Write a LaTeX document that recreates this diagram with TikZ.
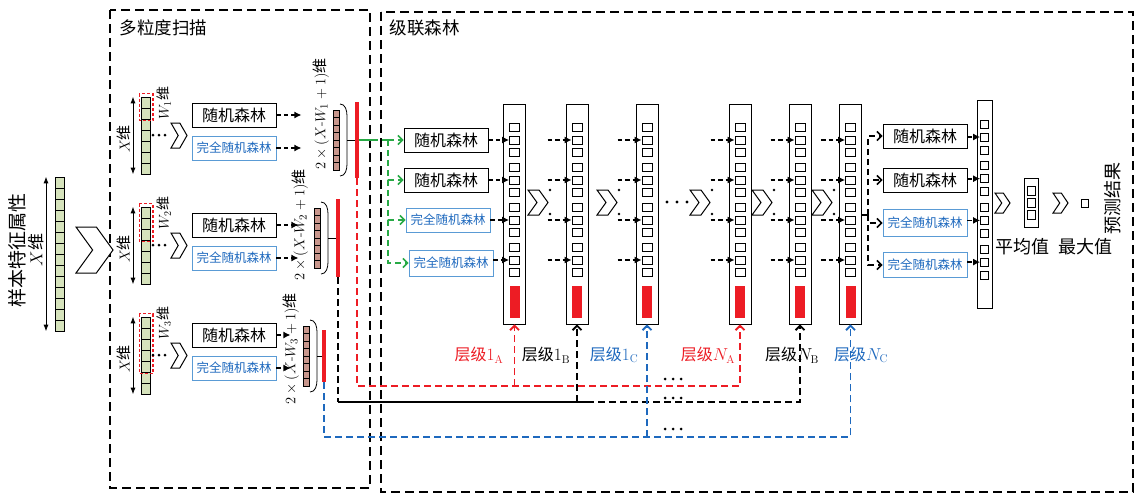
\documentclass[tikz,border=0pt]{standalone}
\usepackage{fontspec}
\usepackage{amsmath}
\usetikzlibrary{arrows.meta,positioning}
\newfontfamily\cjk{Noto Sans CJK SC}
\definecolor{cellgreen}{RGB}{214,227,188}
\definecolor{cellbrown}{RGB}{200,150,140}
\definecolor{lvred}{RGB}{237,28,36}
\definecolor{lvblue}{RGB}{30,105,190}
\definecolor{boxblue}{RGB}{90,155,213}
\definecolor{lvgreen}{RGB}{40,170,70}

\begin{document}
\begin{tikzpicture}[x=1pt,y=-1pt,>=Latex,
  zone/.style={draw,line width=2.2pt,dash pattern=on 9pt off 5pt},
  title/.style={anchor=west,font=\cjk\fontsize{17.5}{17.5}\selectfont},
  lab/.style={font=\cjk\fontsize{16}{16}\selectfont},
  cell/.style={draw,fill=cellgreen,line width=0.6pt,minimum width=9pt,minimum height=11pt,inner sep=0pt},
  bcell/.style={draw,fill=cellbrown,line width=0.3pt,minimum width=6pt,minimum height=7.5pt,inner sep=0pt},
  slot/.style={draw,line width=0.7pt,minimum width=10pt,minimum height=8pt,inner sep=0pt},
  col/.style={draw,line width=0.9pt,minimum width=22pt,minimum height=220pt,inner sep=0pt},
  bar/.style={fill=lvred,inner sep=0pt},
  rf/.style={draw,line width=0.9pt,font=\cjk\fontsize{16}{16}\selectfont,minimum width=84pt,minimum height=24pt,inner sep=0pt},
  crf/.style={draw=boxblue,line width=0.9pt,text=lvblue,font=\cjk\fontsize{12.5}{12.5}\selectfont,minimum width=84pt,minimum height=24pt,inner sep=0pt},
  flow/.style={line width=1.8pt,dash pattern=on 4.5pt off 3pt,-{Latex[length=7pt,width=7pt]}},
  bflow/.style={line width=1.6pt,dash pattern=on 6pt off 4pt,-{Straight Barb[length=4.5pt,width=9pt]}},
  gflow/.style={lvgreen,bflow},
  rail/.style={line width=1.8pt,dash pattern=on 7pt off 4pt},
  chev/.pic={\draw[line width=1pt,fill=white] (0,0) -- (0.55,0) -- (1,0.5) -- (0.55,1) -- (0,1) -- (0.45,0.5) -- cycle;}]
\fill[white] (0,0) rectangle (1143,498);
\useasboundingbox (0,0) rectangle (1143,498);

% two stages
\draw[zone] (110,10) rectangle (370,488);
\draw[zone] (381,12) rectangle (1133,492);
\node[title] (mgs) at (116,28) {多粒度扫描};
\node[title] (cfs) at (386,28) {级联森林};

% sample
\foreach \i in {0,...,13} \node[cell] (s\i) at (60,{182.5+11*\i}) {};
\draw[thick,{Latex}-{Latex}] ([xshift=-14pt]s0.north) -- ([xshift=-14pt]s13.south);
\node[lab,rotate=90,font=\cjk\fontsize{19}{19}\selectfont] (attr) at (17,250) {样本特征属性};
\node[lab,rotate=90,font=\cjk\fontsize{17}{17}\selectfont] (xs) at (36,250) {$X$维};
\pic[xscale=37,yscale=46] (bigchev) at (76,227) {chev};

% scanning windows
\foreach \g/\tp/\w/\bx/\bc/\rx/\rh/\tx/\ty/\al in {1/97/2/336/140/357/76/321/114/25,2/207/3/317/238/338/78/300/225/22,3/317/5/306/356/324/52/291/349/14}{
  \foreach \i in {0,...,6} \node[cell] (g\g-\i) at (146,{\tp+5.5+11*\i}) {};
  \pgfmathtruncatemacro\wl{\w-1}
  \draw[lvred,line width=1.4pt,dash pattern=on 3pt off 2pt] ([xshift=-2pt,yshift=3pt]g\g-0.north west) rectangle ([xshift=2pt,yshift=-1pt]g\g-\wl.south east);
  \draw[thick,{Latex}-{Latex}] ([xshift=-13pt]g\g-0.north) -- ([xshift=-13pt]g\g-6.south);
  \node[lab,rotate=90,font=\cjk\fontsize{15}{15}\selectfont] (xd\g) at (124,{\tp+42}) {$X$维};
  \node[lab,rotate=90,font=\cjk\fontsize{14}{14}\selectfont] (wd\g) at (164,{\tp+6}) {$W_{\g}$维};
  \foreach \dd in {0,1,2} \fill ({153+6*\dd},{\tp+38}) circle (1.5pt);
  \pic[xscale=16,yscale=25] (ch\g) at (171,{\tp+26}) {chev};
  \node[rf] (rf\g) at (234,{\tp+18}) {随机森林};
  \node[crf] (crf\g) at (234,{\tp+51}) {完全随机森林};
  \draw[flow] (rf\g.east) -- ([xshift=\al pt]rf\g.east);
  \draw[flow] (crf\g.east) -- ([xshift=\al pt]crf\g.east);
  \foreach \i in {0,...,7} \node[bcell] (b\g-\i) at (\bx,{\bc-26.25+7.5*\i}) {};
  \node[bar,minimum width=4pt,minimum height=\rh pt] (rb\g) at (\rx,\bc) {};
  \draw[line width=0.8pt] ({\bx+4},{\bc-36}) to[out=0,in=90] ({\bx+11},{\bc-24}) -- ({\bx+11},{\bc+24}) to[out=-90,in=0] ({\bx+4},{\bc+36});
  \draw[line width=0.6pt] ({\bx+11},\bc) -- (rb\g.west);
  \node[rotate=90,font=\fontsize{15}{15}\selectfont] (dim\g) at (\tx,\ty) {$2\times(X\text{-}W_{\g}+1)$\cjk 维};
}

% level 1 forests
\node[rf] (lf1) at (446,140) {随机森林};
\node[rf] (lf2) at (446,180) {随机森林};
\node[crf] (lf3) at (448,220) {完全随机森林};
\node[crf,minimum height=26pt] (lf4) at (451,263) {完全随机森林};
\coordinate (gsplit) at (388,140);
\draw[lvgreen,line width=1.6pt] (rb1.east) -- ([xshift=12pt]rb1.east);
\draw[lvgreen,rail,line width=1.6pt] ([xshift=12pt]rb1.east) -- (gsplit);
\foreach \i in {1,...,4} \draw[gflow] (gsplit) |- (lf\i.west);

% cascade levels
\foreach \k/\x in {1/514.5,2/577,3/647,4/740,5/800,6/850.5}{
  \node[col] (L\k) at (\x,214) {};
  \foreach \j in {0,...,3} \foreach \q/\n in {-1/a,0/b,1/c} \node[slot] (L\k-\j\n) at (\x,{140+40*\j+12.5*\q}) {};
  \node[bar,minimum width=10pt,minimum height=32pt] (R\k) at (\x,302) {};
}
\foreach \i/\j in {1/0,2/1,3/2,4/3} \draw[flow] (lf\i.east |- L1-\j b) -- (L1-\j b.west);
\foreach \k/\cx in {2/528,3/597,4/690,5/752,6/812}{
  \pic[xscale=20,yscale=25] (cv\k) at (\cx,190) {chev};
  \fill ({\cx+22},190) circle (1.4pt);
  \fill ({\cx+22},214) circle (1.4pt);
  \foreach \j in {0,...,3} \draw[flow] ([xshift=-24pt]L\k-\j b.west) -- (L\k-\j b.west);
}
\foreach \dd in {0,1,2} \fill ({667+10*\dd},202) circle (1.6pt);

% last level forests
\node[rf] (nf1) at (925,136) {随机森林};
\node[rf] (nf2) at (925,180) {随机森林};
\node[crf,minimum height=27pt] (nf3) at (925,223) {完全随机森林};
\node[crf,minimum height=25pt] (nf4) at (925,265) {完全随机森林};
\coordinate (osplit) at (868,215);
\draw[rail] (L6.east |- osplit) -- (osplit);
\foreach \i in {1,...,4} \draw[bflow] (osplit) |- (nf\i.west);
\node[draw,line width=0.9pt,minimum width=15pt,minimum height=208pt,inner sep=0pt] (F) at (984.5,204) {};
\foreach \j in {0,...,3} \foreach \q/\n in {-1/a,0/b,1/c} \node[slot,minimum width=8pt] (F-\j\n) at (984.5,{137+41.7*\j+13*\q}) {};
\foreach \i/\j in {1/0,2/1,3/2,4/3} \draw[flow] (nf\i.east |- F-\j b) -- (F-\j b.west);

% output
\pic[xscale=15,yscale=20] (oc1) at (995,193) {chev};
\node[draw,line width=0.9pt,minimum width=14pt,minimum height=49pt,inner sep=0pt] (avg) at (1031,203) {};
\foreach \q/\n in {-1/a,0/b,1/c} \node[slot,minimum width=8pt,minimum height=8.5pt] (avg\n) at (1031,{203+12*\q}) {};
\node[lab,font=\cjk\fontsize{18}{18}\selectfont] (avgt) at (1022,247) {平均值};
\pic[xscale=15,yscale=20] (oc2) at (1053,193) {chev};
\node[draw,line width=0.7pt,minimum width=7pt,minimum height=8pt,inner sep=0pt] (maxv) at (1085,203) {};
\node[lab,font=\cjk\fontsize{18}{18}\selectfont] (maxt) at (1085,247) {最大值};
\node[lab,rotate=90,font=\cjk\fontsize{18}{18}\selectfont] (pred) at (1113,198) {预测结果};

% level inputs
\coordinate (redrail) at (0,386);
\coordinate (blackrail) at (0,402);
\coordinate (bluerail) at (0,437);
\draw[lvred,rail,-{Straight Barb[length=4.5pt,width=9pt]}] (rb1.south) -- (rb1.south |- redrail) -| (L4.south);
\draw[lvred,rail,-{Straight Barb[length=4.5pt,width=9pt]}] (L1.south |- redrail) -- (L1.south);
\draw[rail] (rb2.south) -- (rb2.south |- blackrail);
\draw[line width=1.3pt] (rb2.south |- blackrail) -- ([xshift=10pt]L2.south |- blackrail);
\draw[rail,-{Straight Barb[length=4.5pt,width=9pt]}] ([xshift=10pt]L2.south |- blackrail) -| (L5.south);
\draw[rail,-{Straight Barb[length=4.5pt,width=9pt]}] (L2.south |- blackrail) -- (L2.south);
\draw[lvblue,rail,-{Straight Barb[length=4.5pt,width=9pt]}] (rb3.south) -- (rb3.south |- bluerail) -| (L6.south);
\draw[lvblue,rail,-{Straight Barb[length=4.5pt,width=9pt]}] (L3.south |- bluerail) -- (L3.south);
\foreach \yy in {379,398,429} \foreach \dd in {0,1,2} \fill ({665+8*\dd},\yy) circle (1.5pt);

\node[lab,text=lvred] (t1a) at (479,355) {层级$1_{\mathrm{A}}$};
\node[lab] (t1b) at (546,355) {层级$1_{\mathrm{B}}$};
\node[lab,text=lvblue] (t1c) at (614,355) {层级$1_{\mathrm{C}}$};
\node[lab,text=lvred] (tna) at (708,355) {层级$N_{\mathrm{A}}$};
\node[lab] (tnb) at (792,355) {层级$N_{\mathrm{B}}$};
\node[lab,text=lvblue] (tnc) at (861,355) {层级$N_{\mathrm{C}}$};
\end{tikzpicture}
\end{document}
